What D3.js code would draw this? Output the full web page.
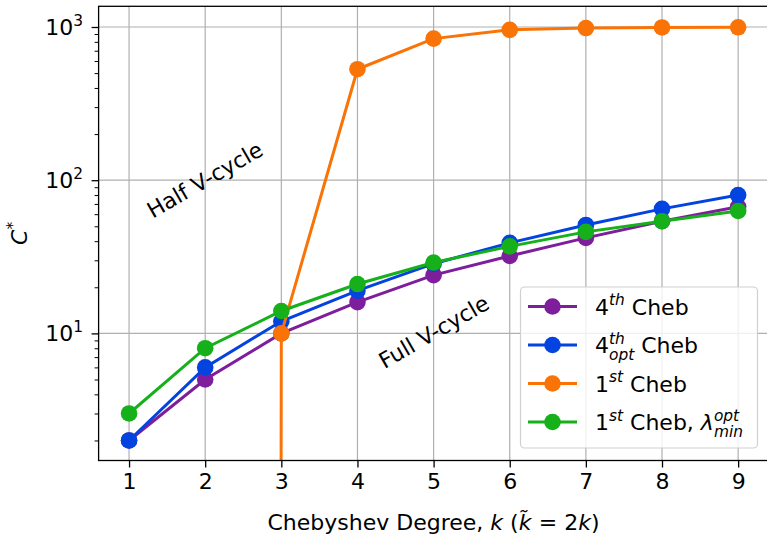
<!DOCTYPE html>
<html>
<head>
<meta charset="utf-8">
<script src="https://cdn.jsdelivr.net/npm/d3@7"></script>
<style>
  body { margin: 0; background: #fff; }
  text { font-family: "DejaVu Sans", sans-serif; white-space: pre; }
</style>
</head>
<body>
<div id="chart"></div>
<script>
// data
var degrees = [1, 2, 3, 4, 5, 6, 7, 8, 9]
var cheb4 = [2, 5, 10, 16, 24, 32, 42, 54, 67]
var cheb4opt = [2, 6, 12, 19, 28.5, 39, 51, 65, 80]
var cheb1 = [0, 0, 10, 530, 840, 958, 985, 993, 996]
var cheb1lam = [3, 8, 14, 21, 29, 37, 46, 54, 63]
var yMajor = [10, 100, 1000]

var series = [
  {name: 'cheb4', values: cheb4, color: '#7e1e9c',
   label: [{t: '4'}, {t: 'th', s: 'sup', it: true}, {t: ' Cheb'}]},
  {name: 'cheb4opt', values: cheb4opt, color: '#0343df',
   label: [{t: '4'}, {t: 'th', s: 'sup', it: true}, {t: 'opt', s: 'sub', it: true, stack: true}, {t: ' Cheb'}]},
  {name: 'cheb1', values: cheb1, color: '#f97306',
   label: [{t: '1'}, {t: 'st', s: 'sup', it: true}, {t: ' Cheb'}]},
  {name: 'cheb1lam', values: cheb1lam, color: '#15b01a',
   label: [{t: '1'}, {t: 'st', s: 'sup', it: true}, {t: ' Cheb, '}, {t: 'λ', it: true},
           {t: 'opt', s: 'sup', it: true}, {t: 'min', s: 'sub', it: true, stack: true}]}
]

var W = 767, H = 538
var pL = 98.6, pR = 768.6, pT = 6.3, pB = 460.5
var fs = 22

var svg = d3.select('#chart').append('svg')
    .attr('width', W).attr('height', H)

var x = d3.scaleLinear().domain([0.6, 9.4]).range([pL, pR])
var y = d3.scaleLog().domain([1.48, 1365]).range([pB, pT])

// mathtext-ish rich text, returns width
function rich(g, parts, size) {
  var cx = 0, lastStart = 0
  parts.forEach(function(p) {
    var s = p.s || 'n'
    var f = s === 'n' ? size : size * 0.7
    var dy = s === 'sup' ? -size * 0.42 : s === 'sub' ? size * 0.3 : 0
    var start = p.stack ? lastStart : cx
    var e = g.append('text')
        .attr('x', start).attr('y', dy)
        .attr('font-size', f)
        .attr('font-style', p.it ? 'italic' : 'normal')
        .text(p.t)
    var w = e.node().getComputedTextLength()
    if (p.stack) cx = Math.max(cx, start + w)
    else { lastStart = start; cx = start + w }
  })
  return cx
}

svg.append('defs').append('clipPath').attr('id', 'plotclip')
  .append('rect').attr('x', pL).attr('y', pT)
  .attr('width', pR - pL).attr('height', pB - pT)

// grid
var grid = svg.append('g')
grid.selectAll('line.gx').data(degrees).enter().append('line')
    .attr('x1', function(d){ return x(d) }).attr('x2', function(d){ return x(d) })
    .attr('y1', pT).attr('y2', pB)
    .attr('stroke', '#b0b0b0').attr('stroke-width', 1.2)
grid.selectAll('line.gy').data(yMajor).enter().append('line')
    .attr('x1', pL).attr('x2', pR)
    .attr('y1', function(d){ return y(d) }).attr('y2', function(d){ return y(d) })
    .attr('stroke', '#b0b0b0').attr('stroke-width', 1.2)

// annotations
svg.append('text').attr('transform', 'translate(205,180) rotate(-30)')
    .attr('text-anchor', 'middle').attr('dominant-baseline', 'central')
    .attr('font-size', fs).text('Half V-cycle')
svg.append('text').attr('transform', 'translate(434,332) rotate(-30)')
    .attr('text-anchor', 'middle').attr('dominant-baseline', 'central')
    .attr('font-size', fs).text('Full V-cycle')

// lines
var plot = svg.append('g').attr('clip-path', 'url(#plotclip)')
var line = d3.line()
    .x(function(d, i){ return x(degrees[i]) })
    .y(function(d){ return y(d > 0 ? d : 1e-300) })

series.forEach(function(s) {
  plot.append('path').datum(s.values)
      .attr('d', line)
      .attr('fill', 'none')
      .attr('stroke', s.color)
      .attr('stroke-width', 3)
  plot.selectAll('circle.' + s.name)
      .data(s.values.map(function(v, i){ return {k: degrees[i], v: v} })
        .filter(function(d){ return d.v > 0 }))
      .enter().append('circle')
      .attr('cx', function(d){ return x(d.k) })
      .attr('cy', function(d){ return y(d.v) })
      .attr('r', 8.3)
      .attr('fill', s.color)
})

// frame
svg.append('rect').attr('x', pL).attr('y', pT)
    .attr('width', pR - pL).attr('height', pB - pT)
    .attr('fill', 'none').attr('stroke', '#000').attr('stroke-width', 1.3)

// x axis
var xAxis = svg.append('g').attr('transform', 'translate(0,' + pB + ')')
    .call(d3.axisBottom(x).tickValues(degrees).tickSize(7).tickPadding(6).tickFormat(d3.format('d')))
xAxis.select('.domain').remove()
xAxis.selectAll('line').attr('stroke-width', 1.3)
xAxis.selectAll('text').attr('font-size', fs).attr('font-family', '"DejaVu Sans", sans-serif')

// y axis
var minors = []
;[1, 10, 100, 1000].forEach(function(b) {
  for (var m = 2; m <= 9; m++) {
    var v = b * m
    if (v >= 1.48 && v <= 1365) minors.push(v)
  }
})
var yAxis = svg.append('g').attr('transform', 'translate(' + pL + ',0)')
    .call(d3.axisLeft(y).tickValues(yMajor).tickSize(7).tickFormat(''))
yAxis.select('.domain').remove()
yAxis.selectAll('line').attr('stroke-width', 1.3)
var yMinor = svg.append('g').attr('transform', 'translate(' + pL + ',0)')
    .call(d3.axisLeft(y).tickValues(minors).tickSize(4).tickFormat(''))
yMinor.select('.domain').remove()
yMinor.selectAll('line').attr('stroke-width', 1)

yMajor.forEach(function(v) {
  var g = svg.append('g')
  var w = rich(g, [{t: '10'}, {t: String(Math.round(Math.log10(v))), s: 'sup'}], fs)
  g.attr('transform', 'translate(' + (83 - w) + ',' + (y(v) + 8) + ')')
})

// axis labels
var xl = svg.append('g')
var xlw = rich(xl, [{t: 'Chebyshev Degree, '}, {t: 'k', it: true}, {t: ' ('}, {t: 'k̃', it: true},
                    {t: '\u2004=\u20042'}, {t: 'k', it: true}, {t: ')'}], fs)
xl.attr('transform', 'translate(' + ((pL + pR) / 2 - xlw / 2) + ',530)')

var yl = svg.append('g')
var ylw = rich(yl, [{t: 'C', it: true}, {t: '*', s: 'sup'}], fs)
yl.attr('transform', 'translate(27,' + ((pT + pB) / 2 + ylw / 2) + ') rotate(-90)')

// legend
var leg = svg.append('g')
leg.append('rect').attr('x', 520.5).attr('y', 287).attr('width', 237).attr('height', 161)
    .attr('rx', 4).attr('fill', '#fff').attr('fill-opacity', 0.8)
    .attr('stroke', '#d0d0d0').attr('stroke-width', 1.2)
var legY = [306.5, 345, 383.5, 422]
series.forEach(function(s, i) {
  var ly = legY[i]
  leg.append('line').attr('x1', 528).attr('x2', 577).attr('y1', ly).attr('y2', ly)
      .attr('stroke', s.color).attr('stroke-width', 3)
  leg.append('circle').attr('cx', 552.5).attr('cy', ly).attr('r', 8.3).attr('fill', s.color)
  var g = leg.append('g').attr('transform', 'translate(595,' + (ly + 8) + ')')
  rich(g, s.label, fs)
})
</script>
</body>
</html>
